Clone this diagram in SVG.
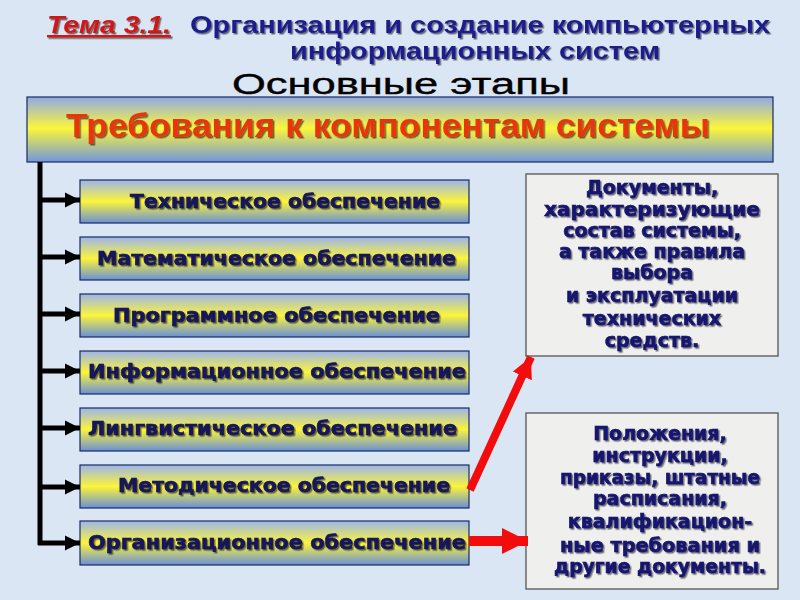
<svg xmlns="http://www.w3.org/2000/svg" width="800" height="600" viewBox="0 0 800 600">
<defs>
  <linearGradient id="bar" x1="0" y1="0" x2="0" y2="1">
    <stop offset="0" stop-color="#9db5ec"/>
    <stop offset="0.5" stop-color="#fbf43a"/>
    <stop offset="1" stop-color="#6a8fd9"/>
  </linearGradient>
  <linearGradient id="hdr" x1="0" y1="0" x2="0" y2="1">
    <stop offset="0" stop-color="#8fa9e6"/>
    <stop offset="0.48" stop-color="#fcf63c"/>
    <stop offset="1" stop-color="#7196dd"/>
  </linearGradient>
  <filter id="sh" x="-5%" y="-20%" width="110%" height="140%">
    <feDropShadow dx="1.5" dy="1.5" stdDeviation="0.6" flood-color="#000" flood-opacity="0.55"/>
  </filter>
  <marker id="ab" viewBox="0 0 10 10" refX="10" refY="5" markerWidth="3" markerHeight="3.4" orient="auto" markerUnits="strokeWidth">
    <path d="M0,0 L10,5 L0,10 z" fill="#000"/>
  </marker>
  <marker id="ar" viewBox="0 0 10 10" refX="10" refY="5" markerWidth="2.6" markerHeight="3" orient="auto" markerUnits="strokeWidth">
    <path d="M0,0 L10,5 L0,10 z" fill="#f20c0c"/>
  </marker>
  <style>
    .t { font-family: "Liberation Sans", Arial, sans-serif; font-weight: bold; }
    .item { font-family: "DejaVu Sans", "Liberation Sans", sans-serif; font-weight: bold; font-size: 19px; fill: #14145a; stroke: #14145a; stroke-width: 0.6; filter: url(#sh); }
    .note { font-family: "DejaVu Sans", "Liberation Sans", sans-serif; font-weight: bold; font-size: 19px; fill: #14146e; stroke: #14146e; stroke-width: 0.6; text-anchor: middle; filter: url(#sh); }
    .box { fill: url(#bar); stroke: #1a2a60; stroke-width: 1.2; }
    .nbox { fill: #efefee; stroke: #555; stroke-width: 1.3; }
    .blk { stroke: #000; stroke-width: 5; fill: none; }
    .red { stroke: #f20c0c; fill: none; }
  </style>
</defs>
<rect width="800" height="600" fill="#dae6f4"/>

<g id="title">
  <text class="t" x="47" y="33" font-size="24" font-style="italic" fill="#d01818" text-decoration="underline" textLength="124" lengthAdjust="spacingAndGlyphs" filter="url(#sh)">Тема 3.1.</text>
  <text class="t" x="190" y="33" font-size="23" fill="#1c1c8c" textLength="580" lengthAdjust="spacingAndGlyphs" filter="url(#sh)">Организация и создание компьютерных</text>
  <text class="t" x="290" y="59" font-size="23" fill="#1c1c8c" textLength="370" lengthAdjust="spacingAndGlyphs" filter="url(#sh)">информационных систем</text>
  <text x="232" y="94" font-family="Liberation Sans, Arial, sans-serif" font-size="30" fill="#000" stroke="#000" stroke-width="0.4" textLength="338" lengthAdjust="spacingAndGlyphs">Основные этапы</text>
</g>

<g id="header">
  <rect x="27" y="97" width="746" height="65" fill="url(#hdr)" stroke="#1a2a60" stroke-width="1.2"/>
  <text class="t" x="66" y="137" font-size="33" fill="#e8360e" textLength="644" lengthAdjust="spacingAndGlyphs" filter="url(#sh)">Требования к компонентам системы</text>
</g>

<g id="n1"><rect class="box" x="80" y="180" width="389" height="43"/><text class="item" x="130" y="208" textLength="310" lengthAdjust="spacingAndGlyphs">Техническое обеспечение</text></g>
<g id="n2"><rect class="box" x="80" y="237" width="389" height="43"/><text class="item" x="97" y="265" textLength="359" lengthAdjust="spacingAndGlyphs">Математическое обеспечение</text></g>
<g id="n3"><rect class="box" x="80" y="294" width="389" height="43"/><text class="item" x="113" y="322" textLength="327" lengthAdjust="spacingAndGlyphs">Программное обеспечение</text></g>
<g id="n4"><rect class="box" x="80" y="351" width="389" height="43"/><text class="item" x="88" y="378" textLength="378" lengthAdjust="spacingAndGlyphs">Информационное обеспечение</text></g>
<g id="n5"><rect class="box" x="80" y="408" width="389" height="43"/><text class="item" x="88" y="435" textLength="369" lengthAdjust="spacingAndGlyphs">Лингвистическое обеспечение</text></g>
<g id="n6"><rect class="box" x="80" y="465" width="389" height="43"/><text class="item" x="118" y="492" textLength="332" lengthAdjust="spacingAndGlyphs">Методическое обеспечение</text></g>
<g id="n7"><rect class="box" x="80" y="521" width="389" height="44"/><text class="item" x="88" y="549" textLength="378" lengthAdjust="spacingAndGlyphs">Организационное обеспечение</text></g>

<g id="noteA">
  <rect class="nbox" x="526" y="174" width="252" height="182"/>
  <text class="note" x="652" y="194">Документы,</text>
  <text class="note" x="652" y="216" textLength="216" lengthAdjust="spacingAndGlyphs">характеризующие</text>
  <text class="note" x="652" y="237">состав системы,</text>
  <text class="note" x="652" y="258">а также правила</text>
  <text class="note" x="652" y="279">выбора</text>
  <text class="note" x="652" y="302">и эксплуатации</text>
  <text class="note" x="652" y="325">технических</text>
  <text class="note" x="652" y="347">средств.</text>
</g>

<g id="noteB">
  <rect class="nbox" x="526" y="413" width="252" height="176"/>
  <text class="note" x="660" y="440">Положения,</text>
  <text class="note" x="660" y="462">инструкции,</text>
  <text class="note" x="660" y="484" textLength="200" lengthAdjust="spacingAndGlyphs">приказы, штатные</text>
  <text class="note" x="660" y="505">расписания,</text>
  <text class="note" x="660" y="528">квалификацион-</text>
  <text class="note" x="660" y="552" textLength="200" lengthAdjust="spacingAndGlyphs">ные требования и</text>
  <text class="note" x="660" y="573" textLength="212" lengthAdjust="spacingAndGlyphs">другие документы.</text>
</g>

<g id="connectors">
  <line class="blk" x1="40" y1="162" x2="40" y2="545"/>
  <line class="blk" x1="38" y1="200" x2="80" y2="200" marker-end="url(#ab)"/>
  <line class="blk" x1="38" y1="257" x2="80" y2="257" marker-end="url(#ab)"/>
  <line class="blk" x1="38" y1="314" x2="80" y2="314" marker-end="url(#ab)"/>
  <line class="blk" x1="38" y1="371" x2="80" y2="371" marker-end="url(#ab)"/>
  <line class="blk" x1="38" y1="428" x2="80" y2="428" marker-end="url(#ab)"/>
  <line class="blk" x1="38" y1="487" x2="80" y2="487" marker-end="url(#ab)"/>
  <line class="blk" x1="38" y1="543" x2="80" y2="543" marker-end="url(#ab)"/>
  <line class="red" stroke-width="8" x1="470" y1="490" x2="531" y2="357" marker-end="url(#ar)"/>
  <line class="red" stroke-width="10" x1="469" y1="541" x2="528" y2="541" marker-end="url(#ar)"/>
</g>
</svg>
